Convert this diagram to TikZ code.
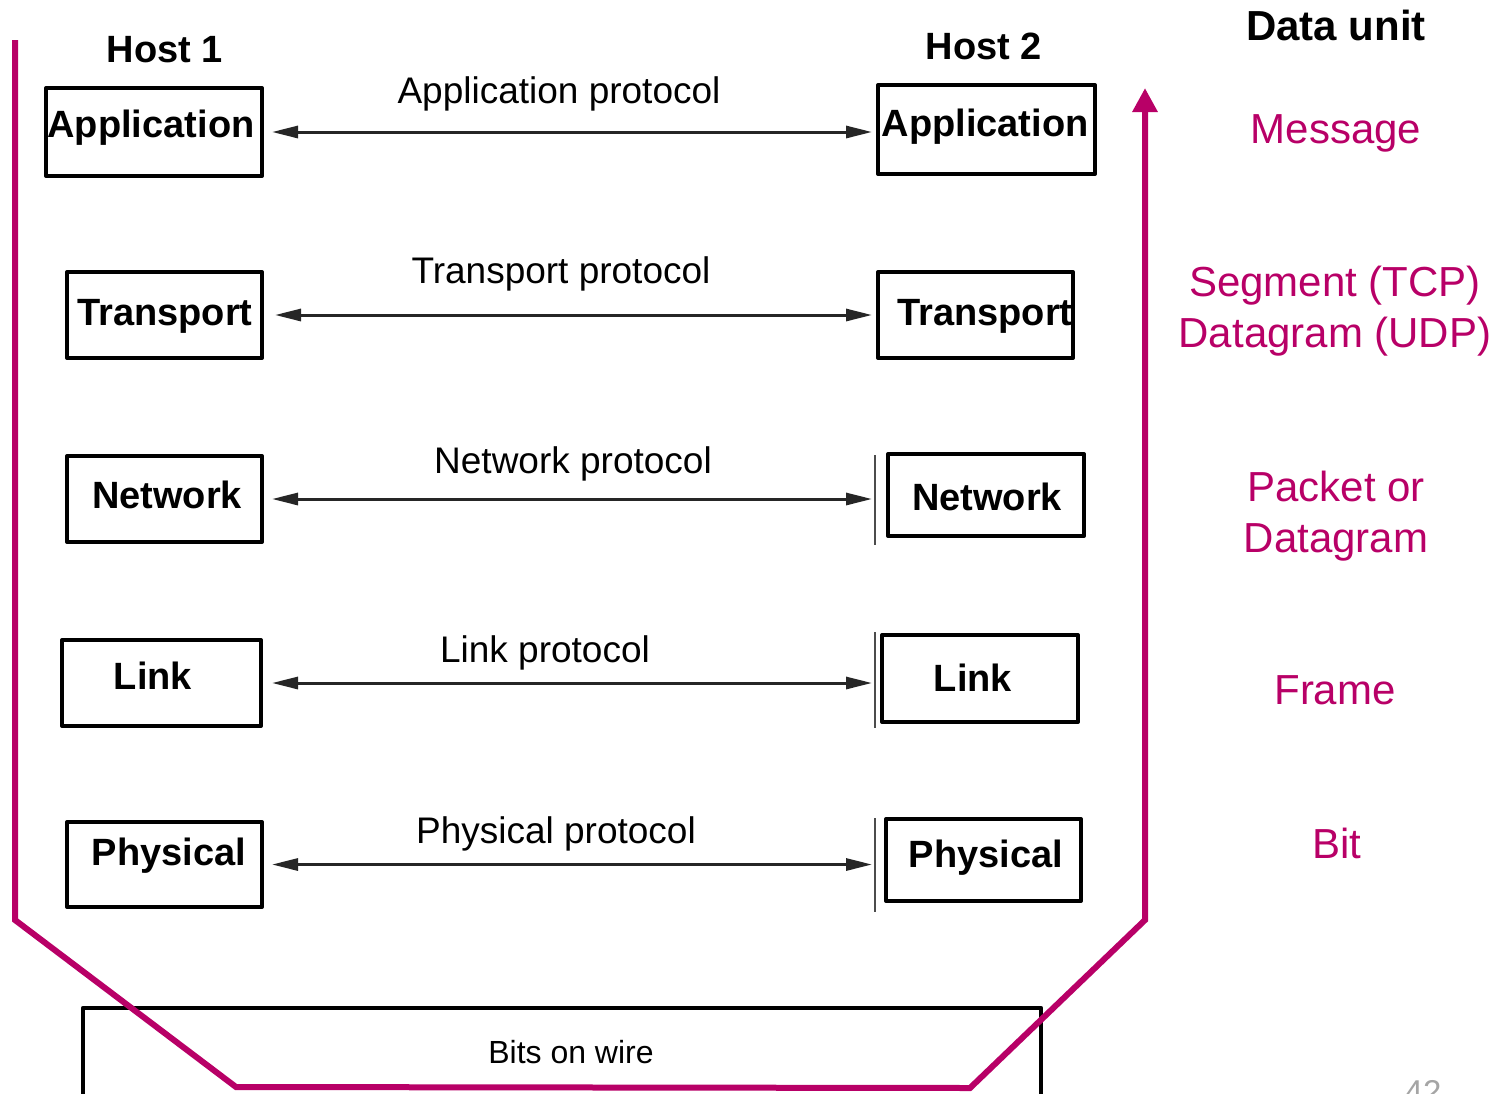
\documentclass[tikz,border=0pt]{standalone}
\usepackage{fontspec}
\setmainfont{Liberation Sans}
\usetikzlibrary{arrows.meta}
\definecolor{unitmag}{RGB}{184,0,103}
\definecolor{pagegray}{RGB}{165,165,165}
\begin{document}
\begin{tikzpicture}[x=1pt,y=-1pt,
  layerbox/.style={draw=black, line width=4pt, line join=round, inner sep=0pt},
  lname/.style={font=\fontsize{38}{44}\selectfont\bfseries, inner sep=0pt, anchor=base},
  pname/.style={font=\fontsize{37}{44}\selectfont, inner sep=0pt, anchor=base},
  unit/.style={font=\fontsize{42}{51}\selectfont, text=unitmag, inner sep=0pt, anchor=base, align=center},
  proto/.style={draw=black!85, line width=3pt,
    {Triangle[length=26pt,width=12pt]}-{Triangle[length=26pt,width=12pt]}},
  flow/.style={draw=unitmag, line width=6pt, line join=miter,
    -{Triangle[length=24pt,width=24pt]}},
  tick/.style={draw=black!70, line width=1.2pt},
]
\useasboundingbox (0,0) rectangle (1508,1093);

% host headings
\node[lname] (host1) at (165,62) {Host 1};
\node[lname] (host2) at (984,59) {Host 2};
\node[lname, font=\fontsize{42}{51}\selectfont\bfseries] (unithead) at (1336,40) {Data unit};

% protocol stack of host 1
\node[layerbox, minimum width=216, minimum height=88] (h1app) at (154,132) {};
\node[layerbox, minimum width=195, minimum height=86] (h1tra) at (164.5,315) {};
\node[layerbox, minimum width=195, minimum height=86] (h1net) at (164.5,499) {};
\node[layerbox, minimum width=199, minimum height=86] (h1lnk) at (161.5,683) {};
\node[layerbox, minimum width=195, minimum height=85] (h1phy) at (164.5,864.5) {};
\node[lname] (h1appT) at (151,137) {Application};
\node[lname] (h1traT) at (165,325) {Transport};
\node[lname] (h1netT) at (167,508) {Network};
\node[lname] (h1lnkT) at (153,689) {Link};
\node[lname] (h1phyT) at (169,865) {Physical};

% protocol stack of host 2
\node[layerbox, minimum width=217, minimum height=89] (h2app) at (986.5,129.5) {};
\node[layerbox, minimum width=195, minimum height=86] (h2tra) at (975.5,315) {};
\node[layerbox, minimum width=196, minimum height=82] (h2net) at (986,495) {};
\node[layerbox, minimum width=196, minimum height=87] (h2lnk) at (980,678.5) {};
\node[layerbox, minimum width=195, minimum height=82] (h2phy) at (983.5,860) {};
\node[lname] (h2appT) at (985,136) {Application};
\node[lname] (h2traT) at (985,325) {Transport};
\node[lname] (h2netT) at (987,510) {Network};
\node[lname] (h2lnkT) at (973,691) {Link};
\node[lname] (h2phyT) at (986,867) {Physical};

% thin edge marks beside the lower host 2 layers
\draw[tick] (875,455) -- (875,545);
\draw[tick] (875,632) -- (875,728);
\draw[tick] (875,818) -- (875,912);

% peer-to-peer protocols
\draw[proto, shorten <=8pt, shorten >=4pt] (h1app.east) -- (h1app.east -| h2app.west);
\draw[proto, shorten <=11pt, shorten >=4pt] (h1tra.east) -- (h1tra.east -| h2tra.west);
\draw[proto, shorten <=8pt, shorten >=14pt] (h1net.east) -- (h1net.east -| h2net.west);
\draw[proto, shorten <=9pt, shorten >=8pt] (h1lnk.east) -- (h1lnk.east -| h2lnk.west);
\draw[proto, shorten <=8pt, shorten >=12pt] (h1phy.east) -- (h1phy.east -| h2phy.west);
\node[pname] (papp) at (559,103) {Application protocol};
\node[pname] (ptra) at (561,283) {Transport protocol};
\node[pname] (pnet) at (573,473) {Network protocol};
\node[pname] (plnk) at (545,662) {Link protocol};
\node[pname] (pphy) at (556,843) {Physical protocol};

% physical medium
\node[layerbox, line width=4.5pt, minimum width=958, minimum height=120] (wire) at (562,1068) {};
\node[pname, font=\fontsize{32}{38}\selectfont] (wireT) at (571,1063) {Bits on wire};

% path of the data down host 1, across the wire and up host 2
\coordinate (f0) at (15,40);
\coordinate (f1) at (15,920);
\coordinate (f2) at (236,1087);
\coordinate (f3) at (970,1088);
\coordinate (f4) at (1145,920);
\coordinate (f5) at (1145,88);
\draw[flow] (f0) -- (f1) -- (f2) -- (f3) -- (f4) -- (f5);

% data units per layer (two-line labels sit on the baseline of their last line)
\node[unit] (uapp) at (1336,143) {Message};
\node[unit] (utra) at (1335,347) {Segment (TCP)\\Datagram (UDP)};
\node[unit] (unet) at (1336,552) {Packet or\\Datagram};
\node[unit] (ulnk) at (1335,704) {Frame};
\node[unit] (uphy) at (1337,858) {Bit};

% page number, running off the lower edge
\node[pname, font=\fontsize{33}{40}\selectfont, text=pagegray] (pageno) at (1423,1103) {42};
\end{tikzpicture}
\end{document}
